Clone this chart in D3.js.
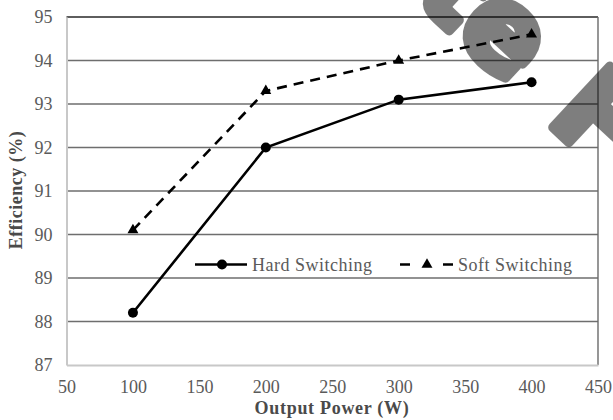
<!DOCTYPE html>
<html>
<head>
<meta charset="utf-8">
<script src="https://cdn.jsdelivr.net/npm/d3@7/dist/d3.min.js"></script>
<style>
  html, body { margin: 0; padding: 0; background: #fff; }
  svg { display: block; }
</style>
</head>
<body>
<svg id="chart" width="613" height="420"></svg>
<script>
// Output power (W) and measured efficiency (%)
const power = [100, 200, 300, 400];
const hardSwitching = [88.2, 92.0, 93.1, 93.5];
const softSwitching = [90.1, 93.3, 94.0, 94.6];
const xTicks = [50, 100, 150, 200, 250, 300, 350, 400, 450];
const yTicks = [87, 88, 89, 90, 91, 92, 93, 94, 95];
const seriesNames = ["Hard Switching", "Soft Switching"];
const stampWords = ["Create", "F"];

const SERIF = "'Liberation Serif', 'Times New Roman', 'DejaVu Serif', serif";
const svg = d3.select("#chart");
const plotLeft = 66.5, plotRight = 598, plotTop = 17, plotBottom = 365;

const x = d3.scaleLinear().domain([50, 450]).range([plotLeft, plotRight]);
const y = d3.scaleLinear().domain([87, 95]).range([plotBottom, plotTop]);

// horizontal gridlines
svg.append("g").selectAll("line")
  .data(yTicks.filter(v => v > 87))
  .join("line")
  .attr("x1", plotLeft).attr("x2", plotRight)
  .attr("y1", d => y(d)).attr("y2", d => y(d))
  .attr("stroke", d => d === 95 ? "#5e5e5e" : "#6e6e6e")
  .attr("stroke-width", d => d === 95 ? 2 : 1.4);

// right border of the plot area
svg.append("line")
  .attr("x1", plotRight).attr("x2", plotRight).attr("y1", plotTop).attr("y2", plotBottom)
  .attr("stroke", "#6a6a6a").attr("stroke-width", 1.4);

// axes
const xAxis = svg.append("g").attr("transform", `translate(0,${plotBottom})`)
  .call(d3.axisBottom(x).tickValues(xTicks).tickSize(0).tickPadding(14));
const yAxis = svg.append("g").attr("transform", `translate(${plotLeft},0)`)
  .call(d3.axisLeft(y).tickValues(yTicks).tickSize(0).tickPadding(14));
[xAxis, yAxis].forEach(g => {
  g.attr("font-family", SERIF).attr("font-size", 18);
  g.select(".domain").attr("stroke", "#c8c8c8").attr("stroke-width", 2);
  g.selectAll("text").attr("fill", "#5a5a5a");
});
xAxis.selectAll("text").attr("dy", "0.75em");

// axis titles
svg.append("text")
  .attr("x", 332).attr("y", 414)
  .attr("text-anchor", "middle")
  .attr("fill", "#4a4a4a")
  .attr("font-family", SERIF).attr("font-size", 18).attr("font-weight", "bold")
  .attr("letter-spacing", 0.7)
  .text("Output Power (W)");
svg.append("text")
  .attr("transform", "translate(22,190) rotate(-90)")
  .attr("text-anchor", "middle")
  .attr("fill", "#4a4a4a")
  .attr("font-family", SERIF).attr("font-size", 18).attr("font-weight", "bold")
  .attr("letter-spacing", 0.5)
  .text("Efficiency (%)");

const line = d3.line().x((d, i) => x(power[i])).y(d => y(d));
const tri = d3.symbol().type(d3.symbolTriangle).size(52);

// soft switching: dashed line with triangles
svg.append("path")
  .datum(softSwitching)
  .attr("d", line)
  .attr("fill", "none").attr("stroke", "#000")
  .attr("stroke-width", 2.6).attr("stroke-dasharray", "10,7");
svg.append("g").selectAll("path")
  .data(softSwitching)
  .join("path")
  .attr("d", tri)
  .attr("transform", (d, i) => `translate(${x(power[i])},${y(d)})`)
  .attr("fill", "#000");

// hard switching: solid line with circles
svg.append("path")
  .datum(hardSwitching)
  .attr("d", line)
  .attr("fill", "none").attr("stroke", "#000").attr("stroke-width", 2.6);
svg.append("g").selectAll("circle")
  .data(hardSwitching)
  .join("circle")
  .attr("cx", (d, i) => x(power[i])).attr("cy", d => y(d))
  .attr("r", 5).attr("fill", "#000");

// legend
const legY = 264.5;
const lg = svg.append("g").attr("font-family", SERIF).attr("font-size", 18);
lg.append("line").attr("x1", 195).attr("x2", 247).attr("y1", legY).attr("y2", legY)
  .attr("stroke", "#000").attr("stroke-width", 2.6);
lg.append("circle").attr("cx", 222).attr("cy", legY).attr("r", 5).attr("fill", "#000");
lg.append("text").attr("x", 252).attr("y", legY + 6)
  .attr("fill", "#5a5a5a").attr("letter-spacing", 0.5).text(seriesNames[0]);
lg.append("line").attr("x1", 400).attr("x2", 453).attr("y1", legY).attr("y2", legY)
  .attr("stroke", "#000").attr("stroke-width", 2.6).attr("stroke-dasharray", "10,33");
lg.append("path").attr("d", tri).attr("transform", `translate(427,${legY})`).attr("fill", "#000");
lg.append("text").attr("x", 458).attr("y", legY + 6)
  .attr("fill", "#5a5a5a").attr("letter-spacing", 0.5).text(seriesNames[1]);

// diagonal stamp text, laid out from its own glyph metrics
const fs = 114;
const stamp = svg.append("g").attr("opacity", 0.5)
  .append("text")
  .attr("fill", "#000").attr("stroke", "#000").attr("stroke-width", 10)
  .attr("stroke-linejoin", "round")
  .attr("font-family", "'DejaVu Sans', 'Liberation Sans', sans-serif")
  .attr("font-size", fs).attr("font-weight", "bold");
stamp.append("tspan").attr("x", 0).attr("y", 0).text(stampWords[0]);
const second = stamp.append("tspan").attr("y", 0).text(stampWords[1]);
const node = stamp.node();
const lastIdx = stampWords[0].length - 1;
const eStart = node.getStartPositionOfChar(lastIdx).x;
const eEnd = node.getEndPositionOfChar(lastIdx).x;
const eCx = (eStart + eEnd) / 2;
const xh = 0.547 * fs;
second.attr("x", eCx + 108 - 0.17 * fs);
stamp.attr("transform", `translate(502,37) rotate(43) translate(${-eCx},${xh / 2})`);
</script>
</body>
</html>
